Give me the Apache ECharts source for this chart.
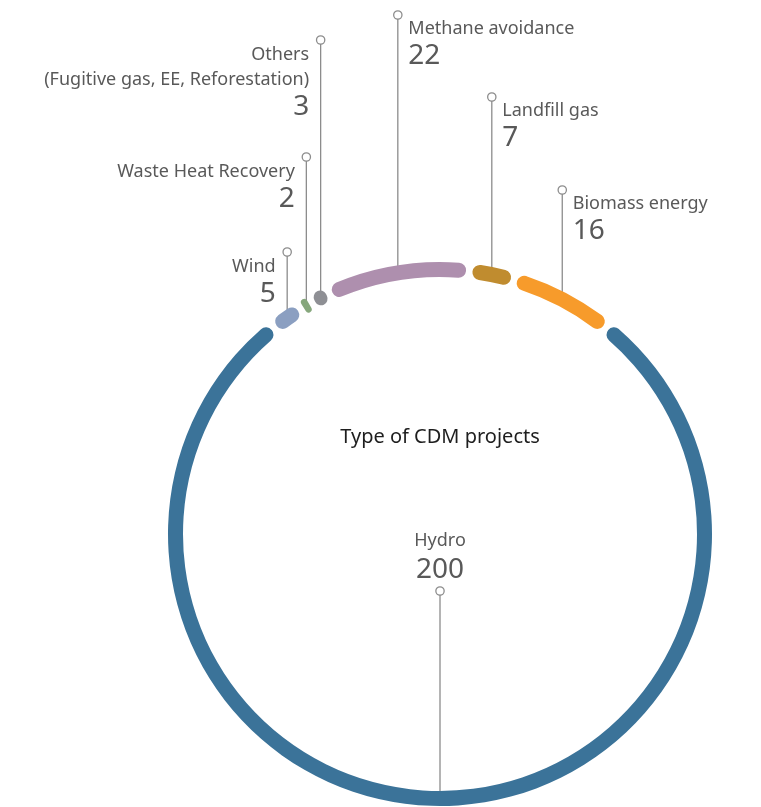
<!DOCTYPE html>
<html>
<head>
<meta charset="utf-8">
<script src="https://cdn.jsdelivr.net/npm/echarts@6/dist/echarts.min.js"></script>
<style>
  html, body { margin: 0; padding: 0; background: #ffffff; }
  #chart { width: 761px; height: 807px; }
</style>
</head>
<body>
<div id="chart"></div>
<script>
// Number of CDM projects by type
const categories = [
  'Wind',
  'Waste Heat Recovery',
  'Others\n(Fugitive gas, EE, Reforestation)',
  'Methane avoidance',
  'Landfill gas',
  'Biomass energy',
  'Hydro'
];
const projectCounts = [5, 2, 3, 22, 7, 16, 200];

// Styling
const sliceColors = ['#8b9fc1', '#86a77c', '#8e8f94', '#ae8fae', '#c08c2f', '#f79b2b', '#3b7399'];
// text alignment of each label relative to its leader line
const labelAlign = ['right', 'right', 'right', 'left', 'left', 'left', 'center'];
// vertical position of each leader line's end marker
const labelTipY = [252, 157, 40, 15, 97, 190, 591];

const CX = 440, CY = 534, R_IN = 257, R_OUT = 272;
const FONT = '"Noto Sans", "Open Sans", sans-serif';
const TEXT = '#595959';
const LINE = '#8c8c8c';

// Hydro is centred at the bottom; the smaller slices gather across the top
const total = projectCounts.reduce((a, b) => a + b, 0);
const hydroShare = projectCounts[projectCounts.length - 1] / total;
const startAngle = 90 + (1 - hydroShare) * 180;

const chart = echarts.init(document.getElementById('chart'), null, { renderer: 'canvas' });

const dotStyle = {
  width: 7, height: 7, borderRadius: 4, borderWidth: 1.3,
  borderColor: LINE, backgroundColor: '#ffffff', fontSize: 1
};

chart.setOption({
  animation: false,
  textStyle: { fontFamily: FONT },
  graphic: [{
    type: 'text',
    x: CX, y: 437,
    style: {
      text: 'Type of CDM projects',
      fill: '#1e1e1e',
      font: '20px ' + FONT,
      textAlign: 'center',
      textVerticalAlign: 'middle'
    }
  }],
  series: [{
    type: 'pie',
    center: [CX, CY],
    radius: [R_IN, R_OUT],
    startAngle: startAngle,
    clockwise: true,
    padAngle: 1.4,
    avoidLabelOverlap: false,
    emphasis: { disabled: true },
    itemStyle: { borderRadius: 8 },
    data: categories.map((name, i) => ({
      name: name,
      value: projectCounts[i],
      itemStyle: { color: sliceColors[i] }
    })),
    label: {
      show: true,
      position: 'outside',
      fontFamily: FONT,
      color: TEXT,
      formatter: function (p) {
        const a = labelAlign[p.dataIndex];
        if (a === 'center') {
          return '{nameC|' + p.name + '}\n{valC|' + p.value + '}\n{dotC| }';
        }
        const s = a === 'right' ? 'R' : 'L';
        return '{dot| }\n{name' + s + '|' + p.name + '}\n{val' + s + '|' + p.value + '}';
      },
      rich: {
        dot: Object.assign({ lineHeight: 4 }, dotStyle),
        dotC: Object.assign({ lineHeight: 10 }, dotStyle),
        nameL: { fontSize: 18, lineHeight: 24, color: TEXT, fontFamily: FONT, padding: [0, 0, 0, 14] },
        valL: { fontSize: 28, lineHeight: 31, color: TEXT, fontFamily: FONT, padding: [0, 0, 0, 14] },
        nameR: { fontSize: 18, lineHeight: 25, color: TEXT, fontFamily: FONT, padding: [0, 15, 0, 0] },
        valR: { fontSize: 28, lineHeight: 31, color: TEXT, fontFamily: FONT, padding: [0, 15, 0, 0] },
        nameC: { fontSize: 18, lineHeight: 26, color: TEXT, fontFamily: FONT },
        valC: { fontSize: 28, lineHeight: 32, color: TEXT, fontFamily: FONT }
      }
    },
    labelLine: {
      show: true,
      length: 6,
      length2: 6,
      smooth: false,
      lineStyle: { color: LINE, width: 1.3 }
    },
    // vertical leader from the middle of each arc to its marker
    labelLayout: function (params) {
      const i = params.dataIndex;
      const p0 = params.labelLinePoints[0];
      const dx = p0[0] - CX, dy = p0[1] - CY;
      const d = Math.sqrt(dx * dx + dy * dy);
      const rMid = (R_IN + R_OUT) / 2;
      const ax = CX + dx / d * rMid;
      const ay = CY + dy / d * rMid;
      const tip = labelTipY[i];
      const a = labelAlign[i];
      const end = tip + (ay > tip ? 3.5 : -3.5);
      const out = { align: a, labelLinePoints: [[ax, ay], [ax, end]] };
      if (a === 'center') {
        out.x = ax; out.y = tip + 5; out.verticalAlign = 'bottom';
      } else {
        out.x = a === 'right' ? ax + 3.5 : ax - 3.5;
        out.y = tip - 2;
        out.verticalAlign = 'top';
      }
      return out;
    }
  }]
});
</script>
</body>
</html>
